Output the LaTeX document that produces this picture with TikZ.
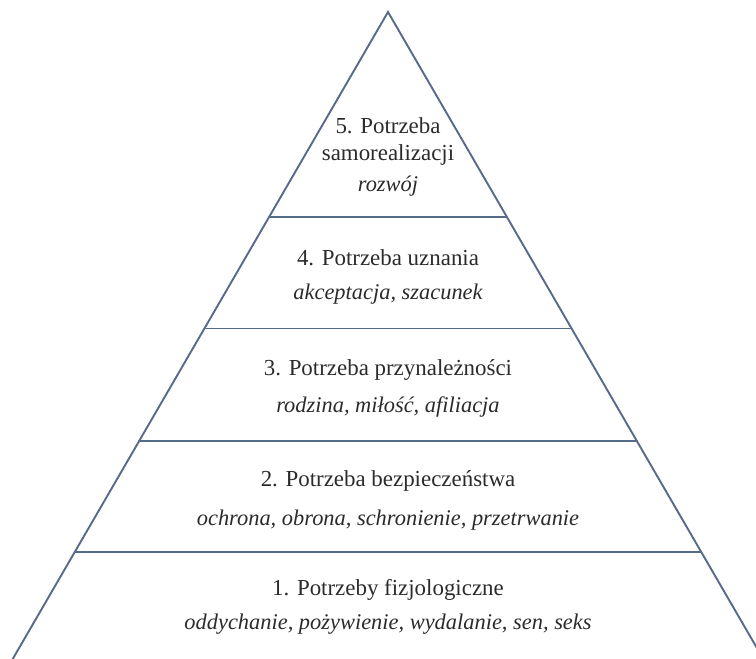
\documentclass[tikz,border=0pt]{standalone}
\usepackage{fontspec}
\setmainfont{Liberation Serif}
\definecolor{edgecol}{HTML}{566A8A}
\definecolor{txtcol}{HTML}{2B2B2B}
\begin{document}
\begin{tikzpicture}[x=1bp,y=-1bp,
  edge/.style={draw=edgecol,line width=1.9bp},
  sep/.style={draw=edgecol,line width=1.6bp},
  lvl/.style={text=txtcol,font=\fontsize{23}{27}\selectfont,inner sep=0pt,anchor=center},
  sub/.style={lvl,font=\fontsize{22.5}{27}\selectfont\itshape}]
\useasboundingbox (0,0) rectangle (756,659);
\coordinate (apex) at (388,12);
\coordinate (bl) at (12.7,659);
\coordinate (br) at (763.3,659);
\draw[edge,line join=miter] (bl) -- (apex) -- (br);
\coordinate (l4) at (269.3,216.7); \coordinate (r4) at (506.7,216.7);
\coordinate (l3) at (204.4,328.5); \coordinate (r3) at (571.6,328.5);
\coordinate (l2) at (139.4,440.7); \coordinate (r2) at (636.6,440.7);
\coordinate (l1) at (74.8,552);    \coordinate (r1) at (701.2,552);
\draw[sep] (l4) -- (r4);
\draw[sep] (l3) -- (r3);
\draw[sep] (l2) -- (r2);
\draw[sep] (l1) -- (r1);
\node[lvl] (t5a) at (388,126) {5. Potrzeba};
\node[lvl] (t5b) at (388,155) {samorealizacji};
\node[sub] (t5c) at (388,186) {rozwój};
\node[lvl] (t4a) at (388,258) {4. Potrzeba uznania};
\node[sub] (t4b) at (388,294) {akceptacja, szacunek};
\node[lvl] (t3a) at (388,370) {3. Potrzeba przynależności};
\node[sub] (t3b) at (388,407) {rodzina, miłość, afiliacja};
\node[lvl] (t2a) at (388,481) {2. Potrzeba bezpieczeństwa};
\node[sub] (t2b) at (388,520) {ochrona, obrona, schronienie, przetrwanie};
\node[lvl] (t1a) at (388,590) {1. Potrzeby fizjologiczne};
\node[sub] (t1b) at (388,624) {oddychanie, pożywienie, wydalanie, sen, seks};
\end{tikzpicture}
\end{document}
